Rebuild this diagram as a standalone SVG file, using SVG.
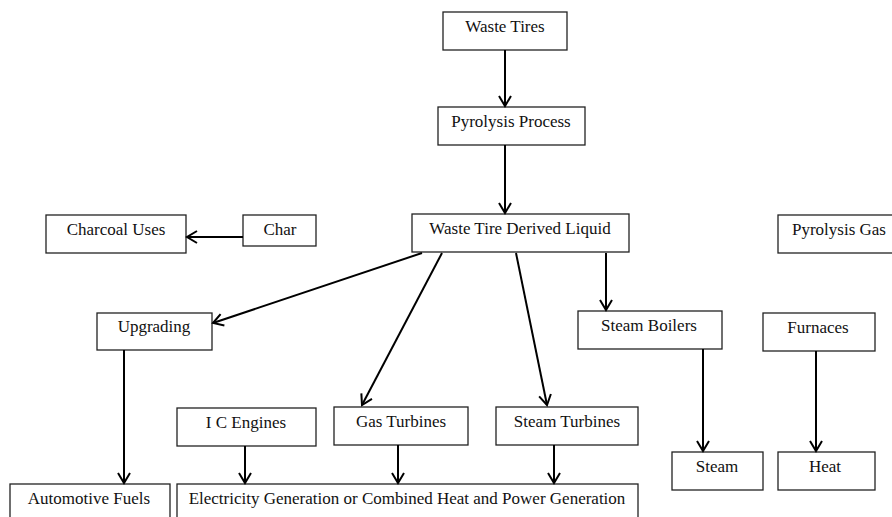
<svg xmlns="http://www.w3.org/2000/svg" width="892" height="517" viewBox="0 0 892 517">
<style>
.b{fill:#fff;stroke:#222;stroke-width:1.3}
.t{font-family:"Liberation Serif","Times New Roman",serif;font-size:17px;fill:#111;text-anchor:middle}
.c{stroke:#000;stroke-width:2;fill:none}
</style>
<defs>
<marker id="a" markerUnits="userSpaceOnUse" markerWidth="16" markerHeight="16" viewBox="-12 -8 14 16" refX="0" refY="0" orient="auto">
<path d="M-10,-6 L0,0 L-10,6" fill="none" stroke="#000" stroke-width="2"/>
</marker>
</defs>
<rect width="892" height="517" fill="#fff"/>
<g id="n-waste-tires"><rect class="b" x="443" y="12" width="124" height="38"/><text class="t" x="505" y="32">Waste Tires</text></g>
<g id="n-pyrolysis-process"><rect class="b" x="438" y="107" width="147" height="38"/><text class="t" x="511" y="127">Pyrolysis Process</text></g>
<g id="n-wtdl"><rect class="b" x="412" y="214" width="217" height="38"/><text class="t" x="520" y="234">Waste Tire Derived Liquid</text></g>
<g id="n-charcoal-uses"><rect class="b" x="46" y="215" width="140" height="38"/><text class="t" x="116" y="235">Charcoal Uses</text></g>
<g id="n-char"><rect class="b" x="243" y="215" width="73" height="31"/><text class="t" x="280" y="235">Char</text></g>
<g id="n-pyrolysis-gas"><rect class="b" x="778" y="215" width="120" height="38"/><text class="t" x="839" y="235">Pyrolysis Gas</text></g>
<g id="n-upgrading"><rect class="b" x="97" y="313" width="115" height="37"/><text class="t" x="154" y="332">Upgrading</text></g>
<g id="n-steam-boilers"><rect class="b" x="578" y="311" width="144" height="38"/><text class="t" x="649" y="331">Steam Boilers</text></g>
<g id="n-furnaces"><rect class="b" x="763" y="313" width="112" height="38"/><text class="t" x="818" y="333">Furnaces</text></g>
<g id="n-ic-engines"><rect class="b" x="177" y="408" width="139" height="38"/><text class="t" x="246" y="428">I C Engines</text></g>
<g id="n-gas-turbines"><rect class="b" x="334" y="407" width="134" height="38"/><text class="t" x="401" y="427">Gas Turbines</text></g>
<g id="n-steam-turbines"><rect class="b" x="496" y="407" width="142" height="38"/><text class="t" x="567" y="427">Steam Turbines</text></g>
<g id="n-steam"><rect class="b" x="672" y="452" width="91" height="38"/><text class="t" x="717" y="472">Steam</text></g>
<g id="n-heat"><rect class="b" x="778" y="452" width="97" height="38"/><text class="t" x="825" y="472">Heat</text></g>
<g id="n-automotive-fuels"><rect class="b" x="10" y="484" width="160" height="40"/><text class="t" x="89" y="504">Automotive Fuels</text></g>
<g id="n-electricity"><rect class="b" x="177" y="484" width="461" height="40"/><text class="t" x="407" y="504">Electricity Generation or Combined Heat and Power Generation</text></g>
<g id="connectors">
<line class="c" x1="505" y1="50" x2="505" y2="106" marker-end="url(#a)"/>
<line class="c" x1="505" y1="145" x2="505" y2="213" marker-end="url(#a)"/>
<line class="c" x1="243" y1="237" x2="187" y2="237" marker-end="url(#a)"/>
<line class="c" x1="422" y1="253" x2="213" y2="323" marker-end="url(#a)"/>
<line class="c" x1="442" y1="253" x2="362" y2="405" marker-end="url(#a)"/>
<line class="c" x1="516" y1="253" x2="547" y2="405" marker-end="url(#a)"/>
<line class="c" x1="606" y1="253" x2="606" y2="310" marker-end="url(#a)"/>
<line class="c" x1="124" y1="350" x2="124" y2="483" marker-end="url(#a)"/>
<line class="c" x1="245" y1="446" x2="245" y2="483" marker-end="url(#a)"/>
<line class="c" x1="398" y1="445" x2="398" y2="483" marker-end="url(#a)"/>
<line class="c" x1="554" y1="445" x2="554" y2="483" marker-end="url(#a)"/>
<line class="c" x1="703" y1="349" x2="703" y2="451" marker-end="url(#a)"/>
<line class="c" x1="816" y1="351" x2="816" y2="451" marker-end="url(#a)"/>
</g>
</svg>
